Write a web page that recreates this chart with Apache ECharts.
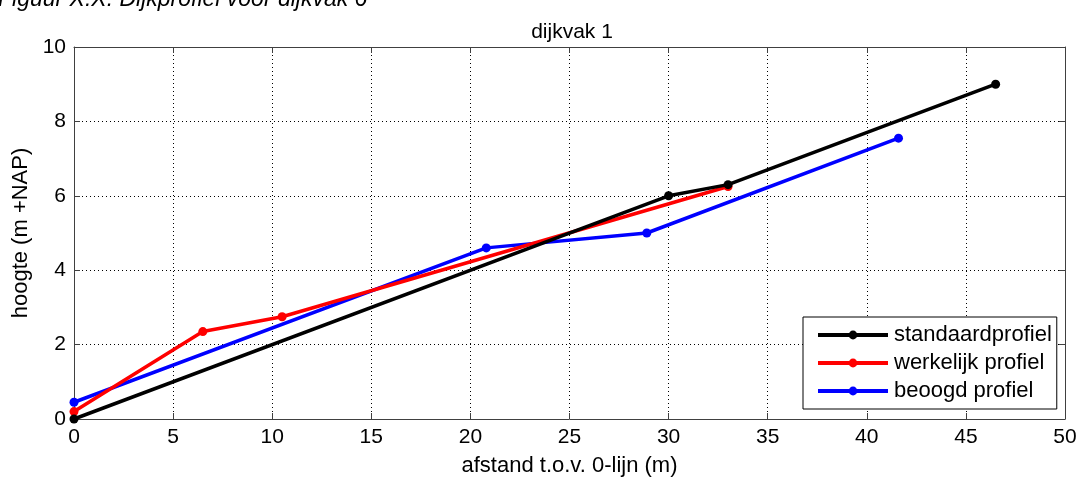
<!DOCTYPE html>
<html><head><meta charset="utf-8">
<script src="https://cdn.jsdelivr.net/npm/echarts@6/dist/echarts.min.js"></script>
<style>html,body{margin:0;padding:0;background:#fff}#c{width:1081px;height:479px}</style>
</head><body><div id="c"></div>
<script>
var standaardX = [0, 30, 33, 46.5];
var standaardY = [0, 6.0, 6.3, 9.0];
var werkelijkX = [0, 6.5, 10.5, 33];
var werkelijkY = [0.2, 2.35, 2.75, 6.25];
var beoogdX = [0, 20.8, 28.9, 41.6];
var beoogdY = [0.45, 4.6, 5.0, 7.55];
var seriesNames = ['standaardprofiel', 'werkelijk profiel', 'beoogd profiel'];
var seriesColors = ['#000000', '#ff0000', '#0000ff'];

function pairs(xs, ys){ return xs.map(function(x,i){ return [x, ys[i]]; }); }
var font = 'Liberation Sans, Arial, sans-serif';
var chart = echarts.init(document.getElementById('c'));
var allData = [pairs(standaardX, standaardY), pairs(werkelijkX, werkelijkY), pairs(beoogdX, beoogdY)];
var series = allData.map(function(d, i){
  return {
    name: seriesNames[i], type: 'line', data: d, xAxisIndex: 0, yAxisIndex: 0,
    symbol: 'circle', symbolSize: 9, showSymbol: true,
    lineStyle: {color: seriesColors[i], width: 3.5},
    itemStyle: {color: seriesColors[i]},
    z: 10 - i, animation: false
  };
});
var axisCommon = {
  axisLine: {show: true, onZero: false, lineStyle: {color: '#404040', width: 1}},
  axisTick: {show: true, inside: true, length: 6, lineStyle: {color: '#404040'}},
  splitLine: {show: false}
};
var gridLine = {splitLine: {show: true, lineStyle: {color: '#000', type: [1, 3], width: 1}}};
chart.setOption({
  animation: false,
  title: {text: 'dijkvak 1', left: 567, top: 17, textAlign: 'center',
    textStyle: {fontFamily: font, fontSize: 21, fontWeight: 'normal', color: '#000'}},
  graphic: [{type: 'text', left: -2, top: -12, style: {text: 'Figuur X.X: Dijkprofiel voor dijkvak 6',
    font: 'italic 23px ' + font, fill: '#000'}}],
  grid: {left: 74, right: 16, top: 47, bottom: 60, containLabel: false, outerBoundsMode: 'none'},
  legend: {
    data: seriesNames, orient: 'vertical', left: 803, top: 317,
    backgroundColor: '#fff', borderColor: '#000', borderWidth: 1,
    padding: [7, 5, 7, 13], itemGap: 6, itemWidth: 70, itemHeight: 11,
    lineStyle: {width: 4},
    textStyle: {fontFamily: font, fontSize: 22, color: '#000', padding: [0,0,0,1], lineHeight: 22}
  },
  xAxis: [
    Object.assign({type: 'value', min: 0, max: 50, interval: 5, position: 'bottom',
      name: 'afstand t.o.v. 0-lijn (m)', nameLocation: 'middle', nameGap: 36,
      nameTextStyle: {fontFamily: font, fontSize: 22, color: '#000'},
      axisLabel: {fontFamily: font, fontSize: 21, color: '#000', margin: 8}
      }, axisCommon, gridLine),
    Object.assign({type: 'value', min: 0, max: 50, interval: 5, position: 'top',
      axisLabel: {show: false}}, axisCommon)
  ],
  yAxis: [
    Object.assign({type: 'value', min: 0, max: 10, interval: 2, position: 'left',
      name: 'hoogte (m +NAP)', nameLocation: 'middle', nameGap: 39, nameRotate: 90,
      nameTextStyle: {fontFamily: font, fontSize: 22, color: '#000'},
      axisLabel: {fontFamily: font, fontSize: 21, color: '#000', margin: 8}
      }, axisCommon, gridLine),
    Object.assign({type: 'value', min: 0, max: 10, interval: 2, position: 'right',
      axisLabel: {show: false}}, axisCommon)
  ],
  series: series
});
</script></body></html>
